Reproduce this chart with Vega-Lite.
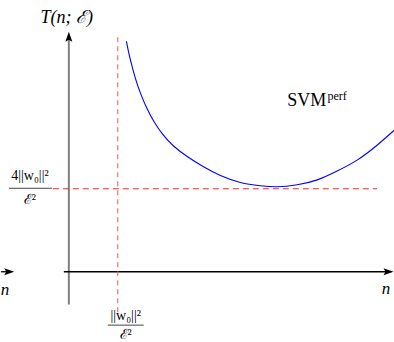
{
  "$schema": "https://vega.github.io/schema/vega-lite/v6.json",
  "width": 394,
  "height": 342,
  "autosize": {"type": "fit", "contains": "padding"},
  "padding": 0,
  "background": "white",
  "config": {"view": {"stroke": null}},
  "encoding": {
    "x": {"field": "x", "type": "quantitative", "scale": {"domain": [-1.388, 6.653], "nice": false, "zero": false}, "axis": null},
    "y": {"field": "y", "type": "quantitative", "scale": {"domain": [-0.798, 3.274], "nice": false, "zero": false}, "axis": null}
  },
  "layer": [
    {
      "description": "vertical axis T",
      "data": {"values": [{"x": 0, "y": -0.393, "y2": 2.8}]},
      "mark": {"type": "rule", "color": "#7f7f7f", "strokeWidth": 2},
      "encoding": {"y2": {"field": "y2"}}
    },
    {
      "description": "horizontal axis n",
      "data": {"values": [{"x": -0.102, "x2": 6.5, "y": 0}, {"x": -1.388, "x2": -1.26, "y": 0}]},
      "mark": {"type": "rule", "color": "black", "strokeWidth": 1.3},
      "encoding": {"x2": {"field": "x2"}}
    },
    {
      "description": "threshold n0",
      "data": {"values": [{"x": 1, "y": -0.488, "y2": 2.833}]},
      "mark": {"type": "rule", "color": "#ff5555", "strokeWidth": 1.3, "strokeDash": [5, 4], "opacity": 0.8},
      "encoding": {"y2": {"field": "y2"}}
    },
    {
      "description": "asymptotic level T0",
      "data": {"values": [{"x": -0.327, "x2": 6.306, "y": 1}]},
      "mark": {"type": "rule", "color": "#ff0000", "strokeWidth": 1.2, "strokeDash": [6, 4], "opacity": 0.85},
      "encoding": {"x2": {"field": "x2"}}
    },
    {
      "description": "fraction bars",
      "data": {"values": [{"x": -1.224, "x2": -0.347, "y": 1.006}, {"x": 0.796, "x2": 1.531, "y": -0.643}]},
      "mark": {"type": "rule", "color": "#444444", "strokeWidth": 1},
      "encoding": {"x2": {"field": "x2"}}
    },
    {
      "description": "SVMperf training time",
      "data": {"values": [
        {"x": 1.178, "y": 2.777}, {"x": 1.224, "y": 2.644}, {"x": 1.286, "y": 2.493},
        {"x": 1.367, "y": 2.321}, {"x": 1.469, "y": 2.146}, {"x": 1.592, "y": 1.975},
        {"x": 1.735, "y": 1.817}, {"x": 1.918, "y": 1.658}, {"x": 2.143, "y": 1.515},
        {"x": 2.429, "y": 1.385}, {"x": 2.755, "y": 1.265}, {"x": 3.102, "y": 1.16},
        {"x": 3.51, "y": 1.075}, {"x": 3.918, "y": 1.036}, {"x": 4.265, "y": 1.024},
        {"x": 4.673, "y": 1.048}, {"x": 5.082, "y": 1.107}, {"x": 5.49, "y": 1.214},
        {"x": 5.898, "y": 1.345}, {"x": 6.306, "y": 1.524}, {"x": 6.653, "y": 1.702},
        {"x": 6.878, "y": 1.81}
      ]},
      "mark": {"type": "line", "color": "#0000ff", "strokeWidth": 1.1, "interpolate": "natural", "clip": true},
      "encoding": {"order": {"field": "x", "type": "quantitative"}}
    },
    {
      "description": "arrowhead up",
      "data": {"values": [{"x": 0, "y": 2.83}]},
      "mark": {"type": "point", "filled": true, "color": "black", "opacity": 1, "size": 100, "strokeWidth": 0, "shape": "M0,-1L0.7,1L0,0.6L-0.7,1Z"}
    },
    {
      "description": "arrowheads right",
      "data": {"values": [{"x": 6.541, "y": 0}, {"x": -1.22, "y": 0}]},
      "mark": {"type": "point", "filled": true, "color": "black", "opacity": 1, "size": 100, "strokeWidth": 0, "shape": "M1,0L-1,0.7L-0.6,0L-1,-0.7Z"}
    },
    {
      "data": {"values": [{"x": -0.041, "y": 3.06, "t": "T(n; ℰ)"}]},
      "mark": {"type": "text", "font": "Liberation Serif", "fontStyle": "italic", "fontSize": 18, "align": "center", "baseline": "middle", "color": "black"},
      "encoding": {"text": {"field": "t"}}
    },
    {
      "data": {"values": [
        {"x": -0.796, "y": 1.15, "t": "4||w₀||²"},
        {"x": -0.796, "y": 0.86, "t": "ℰ²"},
        {"x": 1.163, "y": -0.53, "t": "||w₀||²"},
        {"x": 1.163, "y": -0.76, "t": "ℰ²"}
      ]},
      "mark": {"type": "text", "font": "Liberation Serif", "fontSize": 14, "align": "center", "baseline": "middle", "color": "black"},
      "encoding": {"text": {"field": "t"}}
    },
    {
      "data": {"values": [{"x": 6.49, "y": -0.202, "t": "n"}, {"x": -1.306, "y": -0.214, "t": "n"}]},
      "mark": {"type": "text", "font": "Liberation Serif", "fontStyle": "italic", "fontSize": 17, "align": "center", "baseline": "middle", "color": "black"},
      "encoding": {"text": {"field": "t"}}
    },
    {
      "data": {"values": [{"x": 4.469, "y": 2.0, "t": "SVM"}]},
      "mark": {"type": "text", "font": "Liberation Serif", "fontSize": 18, "align": "left", "baseline": "alphabetic", "color": "black"},
      "encoding": {"text": {"field": "t"}}
    },
    {
      "data": {"values": [{"x": 5.29, "y": 2.071, "t": "perf"}]},
      "mark": {"type": "text", "font": "Liberation Serif", "fontSize": 12, "align": "left", "baseline": "alphabetic", "color": "black"},
      "encoding": {"text": {"field": "t"}}
    }
  ]
}
